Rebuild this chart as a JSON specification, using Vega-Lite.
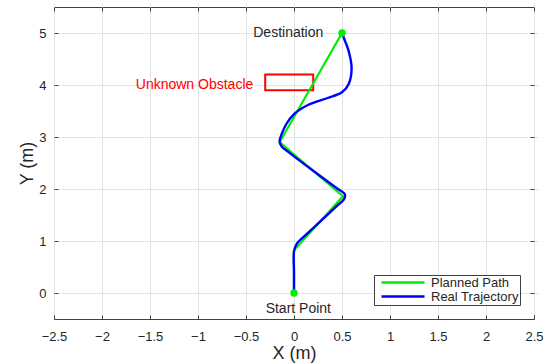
{
  "$schema": "https://vega.github.io/schema/vega-lite/v6.json",
  "autosize": {"type": "none"},
  "padding": {"left": 54, "top": 7, "right": 15, "bottom": 44},
  "width": 480,
  "height": 312,
  "config": {
    "font": "Liberation Sans",
    "view": {"stroke": "#404040", "strokeWidth": 1},
    "axis": {
      "labelFont": "Liberation Sans",
      "titleFont": "Liberation Sans",
      "labelFontSize": 13,
      "labelColor": "#262626",
      "titleColor": "#262626",
      "titleFontSize": 18,
      "titleFontWeight": "normal",
      "gridColor": "#e3e3e3",
      "gridWidth": 1,
      "domain": false,
      "tickColor": "#404040",
      "tickSize": 4,
      "offset": -4
    },
    "legend": {
      "labelFont": "Liberation Sans",
      "labelFontSize": 13,
      "labelColor": "#262626"
    }
  },
  "resolve": {"axis": {"x": "independent", "y": "independent"}},
  "datasets": {
    "planned": [
      {"series": "Planned Path", "ord": 0, "x": 0, "y": 0},
      {"series": "Planned Path", "ord": 1, "x": 0, "y": 0.82},
      {"series": "Planned Path", "ord": 2, "x": 0.51, "y": 1.86},
      {"series": "Planned Path", "ord": 3, "x": -0.15, "y": 2.9},
      {"series": "Planned Path", "ord": 4, "x": 0.5, "y": 5}
    ],
    "real": [
      {"series": "Real Trajectory", "ord": 0, "x": 0, "y": 0},
      {"series": "Real Trajectory", "ord": 1, "x": 0, "y": 0.4},
      {"series": "Real Trajectory", "ord": 2, "x": 0, "y": 0.8},
      {"series": "Real Trajectory", "ord": 3, "x": 0.03, "y": 0.95},
      {"series": "Real Trajectory", "ord": 4, "x": 0.1, "y": 1.08},
      {"series": "Real Trajectory", "ord": 5, "x": 0.3, "y": 1.42},
      {"series": "Real Trajectory", "ord": 6, "x": 0.45, "y": 1.68},
      {"series": "Real Trajectory", "ord": 7, "x": 0.52, "y": 1.8},
      {"series": "Real Trajectory", "ord": 8, "x": 0.53, "y": 1.9},
      {"series": "Real Trajectory", "ord": 9, "x": 0.45, "y": 2.01},
      {"series": "Real Trajectory", "ord": 10, "x": 0.2, "y": 2.35},
      {"series": "Real Trajectory", "ord": 11, "x": -0.05, "y": 2.7},
      {"series": "Real Trajectory", "ord": 12, "x": -0.13, "y": 2.82},
      {"series": "Real Trajectory", "ord": 13, "x": -0.15, "y": 2.92},
      {"series": "Real Trajectory", "ord": 14, "x": -0.13, "y": 3.05},
      {"series": "Real Trajectory", "ord": 15, "x": -0.08, "y": 3.25},
      {"series": "Real Trajectory", "ord": 16, "x": 0, "y": 3.44},
      {"series": "Real Trajectory", "ord": 17, "x": 0.15, "y": 3.62},
      {"series": "Real Trajectory", "ord": 18, "x": 0.35, "y": 3.75},
      {"series": "Real Trajectory", "ord": 19, "x": 0.5, "y": 3.86},
      {"series": "Real Trajectory", "ord": 20, "x": 0.57, "y": 4.02},
      {"series": "Real Trajectory", "ord": 21, "x": 0.6, "y": 4.32},
      {"series": "Real Trajectory", "ord": 22, "x": 0.57, "y": 4.65},
      {"series": "Real Trajectory", "ord": 23, "x": 0.52, "y": 4.9},
      {"series": "Real Trajectory", "ord": 24, "x": 0.5, "y": 5}
    ],
    "points": [{"x": 0, "y": 0}, {"x": 0.5, "y": 5}],
    "obstacle": [{"x1": -0.3, "x2": 0.2, "y1": 3.9, "y2": 4.2}],
    "labelsRight": [
      {"x": 0.305, "y": 5.0, "t": "Destination"}
    ],
    "labelsObs": [
      {"x": -0.424, "y": 4.0, "t": "Unknown Obstacle"}
    ],
    "labelsStart": [
      {"x": 0.045, "y": -0.3, "t": "Start Point"}
    ]
  },
  "layer": [
    {
      "data": {"name": "obstacle"},
      "mark": {"type": "rect", "fill": null, "stroke": "#ff0000", "strokeWidth": 2},
      "encoding": {
        "x": {"field": "x1", "type": "quantitative", "scale": {"domain": [-2.5, 2.5], "nice": false}, "axis": {"values": [-2.5, -2, -1.5, -1, -0.5, 0, 0.5, 1, 1.5, 2, 2.5], "format": "~g", "title": "X (m)", "labelPadding": 11, "titlePadding": 1, "labelFlush": false}},
        "x2": {"field": "x2"},
        "y": {"field": "y1", "type": "quantitative", "scale": {"domain": [-0.5, 5.5], "nice": false}, "axis": {"values": [0, 1, 2, 3, 4, 5], "title": "Y (m)", "labelPadding": 8, "titlePadding": 2}},
        "y2": {"field": "y2"}
      }
    },
    {
      "data": {"name": "planned"},
      "mark": {"type": "line", "strokeWidth": 2.2},
      "encoding": {
        "x": {"field": "x", "type": "quantitative", "axis": null},
        "y": {"field": "y", "type": "quantitative", "axis": null},
        "order": {"field": "ord", "type": "quantitative"},
        "color": {
          "field": "series", "type": "nominal",
          "scale": {"domain": ["Planned Path", "Real Trajectory"], "range": ["#00ee00", "#0000ff"]},
          "legend": {
            "title": null, "orient": "none", "legendX": 320, "legendY": 268,
            "symbolType": "stroke", "symbolSize": 1849, "symbolStrokeWidth": 2.5,
            "clipHeight": 13, "symbolOffset": 5,
            "strokeColor": "#404040", "fillColor": "#ffffff", "padding": 1,
            "rowPadding": 0, "labelOffset": 5
          }
        }
      }
    },
    {
      "data": {"name": "real"},
      "mark": {"type": "line", "strokeWidth": 2.4, "interpolate": "catmull-rom"},
      "encoding": {
        "x": {"field": "x", "type": "quantitative", "axis": null},
        "y": {"field": "y", "type": "quantitative", "axis": null},
        "order": {"field": "ord", "type": "quantitative"},
        "color": {"field": "series", "type": "nominal"}
      }
    },
    {
      "data": {"name": "points"},
      "mark": {"type": "point", "filled": true, "color": "#00ee00", "opacity": 1, "size": 55},
      "encoding": {
        "x": {"field": "x", "type": "quantitative", "axis": {"orient": "top", "values": [-2.5, -2, -1.5, -1, -0.5, 0, 0.5, 1, 1.5, 2, 2.5], "labels": false, "title": null, "grid": false}},
        "y": {"field": "y", "type": "quantitative", "axis": {"orient": "right", "values": [0, 1, 2, 3, 4, 5], "labels": false, "title": null, "grid": false}}
      }
    },
    {
      "data": {"name": "labelsRight"},
      "mark": {"type": "text", "fontSize": 14, "baseline": "middle", "align": "right", "color": "#262626"},
      "encoding": {
        "x": {"field": "x", "type": "quantitative", "axis": null},
        "y": {"field": "y", "type": "quantitative", "axis": null},
        "text": {"field": "t"}
      }
    },
    {
      "data": {"name": "labelsObs"},
      "mark": {"type": "text", "fontSize": 14, "baseline": "middle", "align": "right", "color": "#ff0000"},
      "encoding": {
        "x": {"field": "x", "type": "quantitative", "axis": null},
        "y": {"field": "y", "type": "quantitative", "axis": null},
        "text": {"field": "t"}
      }
    },
    {
      "data": {"name": "labelsStart"},
      "mark": {"type": "text", "fontSize": 14, "baseline": "middle", "align": "center", "color": "#262626"},
      "encoding": {
        "x": {"field": "x", "type": "quantitative", "axis": null},
        "y": {"field": "y", "type": "quantitative", "axis": null},
        "text": {"field": "t"}
      }
    }
  ]
}
